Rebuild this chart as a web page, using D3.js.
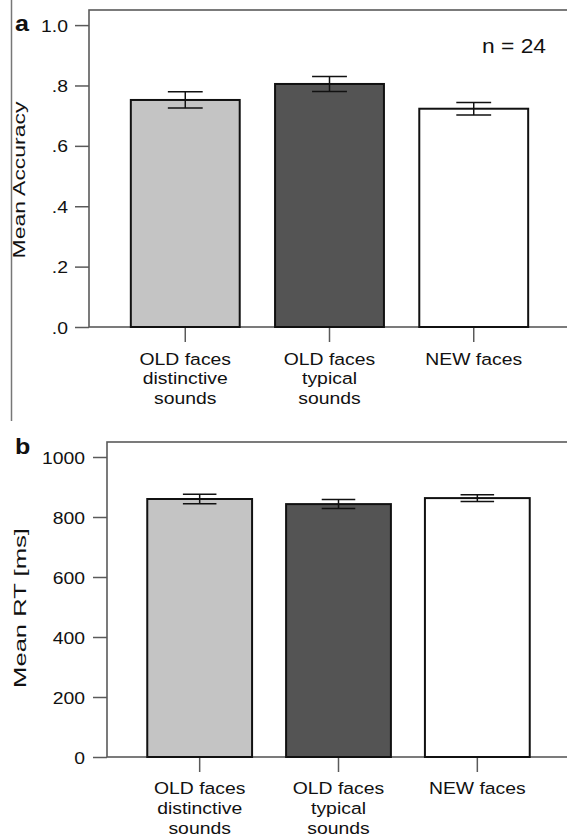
<!DOCTYPE html>
<html>
<head>
<meta charset="utf-8">
<script src="https://cdn.jsdelivr.net/npm/d3@7"></script>
<style>
  html, body { margin: 0; padding: 0; background: #fff; }
  svg { display: block; }
  text { font-family: "Liberation Sans", Arial, Helvetica, sans-serif; fill: #111; }
</style>
</head>
<body>
<svg id="fig" width="567" height="837"></svg>
<script>
// Conditions (x categories), each label split into lines
const categories = ["OLD faces distinctive sounds", "OLD faces typical sounds", "NEW faces"];
const categoryLines = [["OLD faces", "distinctive", "sounds"], ["OLD faces", "typical", "sounds"], ["NEW faces"]];
const barFills = ["#c4c4c4", "#545454", "#ffffff"];

// Panel a: mean accuracy with standard errors
const accuracyMean = [0.752, 0.805, 0.723];
const accuracySE = [0.027, 0.025, 0.021];
const accuracyTicks = [0, 0.2, 0.4, 0.6, 0.8, 1.0];
const accuracyTickLabels = [".0", ".2", ".4", ".6", ".8", "1.0"];

// Panel b: mean reaction time (ms) with standard errors
const rtMean = [860, 843, 863];
const rtSE = [16, 15, 11];
const rtTicks = [0, 200, 400, 600, 800, 1000];
const rtTickLabels = ["0", "200", "400", "600", "800", "1000"];

const svg = d3.select("#fig");
const axisColor = "#5a5a5a";
const wide = 1.14; // horizontal stretch of the type

function drawPanel(cfg) {
  const g = svg.append("g");
  const x = d3.scaleBand().domain(categories).range([cfg.left, cfg.right])
    .paddingInner(0.245).paddingOuter(0.29);
  const y = d3.scaleLinear().domain([0, cfg.yMax]).range([cfg.bottom, cfg.top]);

  // frame (right side runs past the page edge)
  g.append("rect")
    .attr("x", cfg.left).attr("y", cfg.top)
    .attr("width", cfg.right - cfg.left).attr("height", cfg.bottom - cfg.top)
    .attr("fill", "none").attr("stroke", axisColor).attr("stroke-width", 1.6);

  // y axis
  const yAxis = d3.axisLeft(y).tickValues(cfg.ticks).tickSize(14).tickPadding(0)
    .tickFormat((d, i) => cfg.tickLabels[i]);
  const ya = g.append("g").attr("transform", `translate(${cfg.left},0)`).call(yAxis);
  ya.select(".domain").remove();
  ya.selectAll(".tick line").attr("stroke", axisColor).attr("stroke-width", 1.5);
  ya.selectAll(".tick text")
    .attr("x", -cfg.labelGap / wide).attr("dy", "0.36em")
    .attr("transform", `scale(${wide},1)`)
    .style("font-size", "17px").attr("fill", "#111");

  // x axis ticks and multi-line category labels
  const xAxis = d3.axisBottom(x).tickSize(15).tickFormat("");
  const xa = g.append("g").attr("transform", `translate(0,${cfg.bottom})`).call(xAxis);
  xa.select(".domain").remove();
  xa.selectAll(".tick line").attr("stroke", axisColor).attr("stroke-width", 1.5);
  categories.forEach((c, i) => {
    const t = g.append("g")
      .attr("transform", `translate(${x(c) + x.bandwidth() / 2},${cfg.bottom + cfg.labelDrop}) scale(${wide},1)`)
      .append("text").attr("text-anchor", "middle").style("font-size", "17px");
    categoryLines[i].forEach((line, j) => {
      t.append("tspan").attr("x", 0).attr("y", j * cfg.lineStep).text(line);
    });
  });

  // bars
  g.selectAll("rect.bar").data(cfg.means).join("rect")
    .attr("class", "bar")
    .attr("x", (d, i) => x(categories[i]))
    .attr("y", d => y(d))
    .attr("width", x.bandwidth())
    .attr("height", d => y(0) - y(d))
    .attr("fill", (d, i) => barFills[i])
    .attr("stroke", "#111").attr("stroke-width", 2);

  // error bars (mean ± SE)
  const capHalf = x.bandwidth() * 0.16;
  cfg.means.forEach((m, i) => {
    const cx = x(categories[i]) + x.bandwidth() / 2;
    const hi = y(m + cfg.se[i]), lo = y(m - cfg.se[i]);
    const eb = g.append("g").attr("stroke", "#111").attr("stroke-width", 1.5);
    eb.append("line").attr("x1", cx).attr("x2", cx).attr("y1", hi).attr("y2", lo);
    eb.append("line").attr("x1", cx - capHalf).attr("x2", cx + capHalf).attr("y1", hi).attr("y2", hi);
    eb.append("line").attr("x1", cx - capHalf).attr("x2", cx + capHalf).attr("y1", lo).attr("y2", lo);
  });

  // rotated y title, stretched along its length
  const title = g.append("text")
    .attr("text-anchor", "middle").style("font-size", "17px")
    .text(cfg.yTitle);
  const len = title.node().getComputedTextLength();
  title.attr("transform",
    `translate(${cfg.titleX},${cfg.titleY}) rotate(-90) scale(${cfg.titleLength / len},1)`);

  // panel letter
  g.append("text")
    .attr("transform", `translate(${cfg.letterX},${cfg.letterY}) scale(${wide},1)`)
    .style("font-size", "22px").style("font-weight", "bold")
    .text(cfg.letter);

  return { x, y, g };
}

const pa = drawPanel({
  left: 89, right: 570, top: 10, bottom: 327, yMax: 1.05,
  ticks: accuracyTicks, tickLabels: accuracyTickLabels,
  means: accuracyMean, se: accuracySE,
  labelGap: 21, labelDrop: 38, lineStep: 19.5,
  yTitle: "Mean Accuracy", titleX: 25, titleY: 180, titleLength: 157,
  letter: "a", letterX: 15, letterY: 31
});

const pb = drawPanel({
  left: 107, right: 570, top: 442, bottom: 757, yMax: 1050,
  ticks: rtTicks, tickLabels: rtTickLabels,
  means: rtMean, se: rtSE,
  labelGap: 22, labelDrop: 37, lineStep: 20,
  yTitle: "Mean RT [ms]", titleX: 26, titleY: 608, titleLength: 160,
  letter: "b", letterX: 15, letterY: 454
});

// sample size note in panel a
pa.g.append("text")
  .attr("transform", `translate(546,53) scale(${wide},1)`)
  .attr("text-anchor", "end").style("font-size", "20px")
  .text("n = 24");

// vertical rule at the left of panel a
svg.append("line")
  .attr("x1", 11.5).attr("x2", 11.5).attr("y1", 0).attr("y2", 421)
  .attr("stroke", "#777").attr("stroke-width", 1.5);
</script>
</body>
</html>
